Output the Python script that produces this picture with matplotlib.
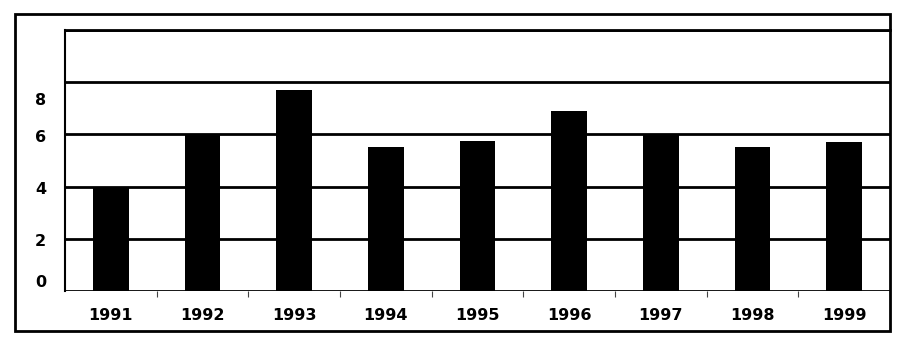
import matplotlib

matplotlib.use("Agg")
import matplotlib.pyplot as plt
from matplotlib.patches import Rectangle

years = ["1991", "1992", "1993", "1994", "1995", "1996", "1997", "1998", "1999"]
values = [4.0, 6.0, 7.7, 5.5, 5.73, 6.88, 6.0, 5.5, 5.7]

grid_levels = [0, 2, 4, 6, 8, 10]
# the y labels in the original sit slightly off their gridlines
ylabel_pos = [0.38, 1.96, 3.96, 5.92, 7.35]
ylabel_text = ["0", "2", "4", "6", "8"]

plt.rcParams["font.family"] = ["DejaVu Sans"]

fig = plt.figure(figsize=(9.15, 3.59), dpi=100)
ax = fig.add_axes([65 / 915, 1 - 291 / 359, 825 / 915, 261 / 359])

x = list(range(len(years)))
ax.hlines(grid_levels, -0.5, len(years) - 0.5, colors="black", linewidth=2, zorder=1)
ax.bar(x, values, width=0.39, color="black", zorder=3)

ax.set_xlim(-0.5, len(years) - 0.5)
ax.set_ylim(0, 10)

ax.set_xticks(x)
ax.set_xticklabels(years, fontsize=11.5, fontweight="bold")
ax.set_xticks([i + 0.5 for i in x[:-1]], minor=True)
ax.tick_params(axis="x", which="major", length=0, pad=12)
ax.tick_params(axis="x", which="minor", length=4, width=0.8, color="#444444")

ax.set_yticks(ylabel_pos)
ax.set_yticklabels(ylabel_text, fontsize=11.5, fontweight="bold")
ax.tick_params(axis="y", length=0, pad=13.5)

ax.spines["bottom"].set_visible(False)
ax.spines["top"].set_linewidth(2)
ax.spines["left"].set_linewidth(1.5)
ax.spines["right"].set_visible(False)

border = Rectangle((15 / 915, 1 - 331 / 359), 875 / 915, 317 / 359,
                   transform=fig.transFigure, fill=False, edgecolor="black",
                   linewidth=2)
fig.patches.append(border)

fig.savefig("out.png", dpi=100)
